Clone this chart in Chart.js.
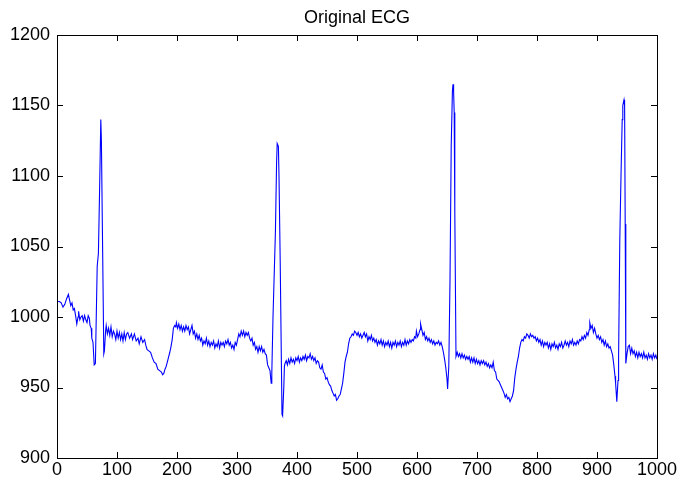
<!DOCTYPE html>
<html>
<head>
<meta charset="utf-8">
<script src="https://cdn.jsdelivr.net/npm/chart.js@4.4.1/dist/chart.umd.min.js"></script>
<style>
  html, body { margin: 0; padding: 0; background: #fff; }
  canvas { display: block; }
</style>
</head>
<body>
<canvas id="ecgCanvas" width="696" height="483"></canvas>
<script>
// sample index / amplitude pairs, one array per beat
const beat1 = [
  [0,1011],[4,1011],[7,1010],[10,1007],[13,1009],[16,1013],[19,1016],[21,1012],[23,1008],[25,1010],
  [27,1005],[29,1006],[31,1001],[33,995],[35,1000],[36,1004],[38,998],[40,1000],[42,1001],[44,997],
  [46,1001],[48,998],[50,996],[52,1001],[54,999],[55,994],[57,992],[58,985],[60,982],[62,966],[64,967],
  [65,990],[67,1036],[69,1045],[71,1090],[73,1140],[74,1125],[76,1050],[78,974],[79,976],[81,990],
  [82,994],[84,988],[86,992],[88,987],[90,993],[92,986],[94,990],[96,988],[98,984],[100,990],
  [102,985],[104,989],[106,984],[108,988],[110,983],[112,989],[114,984],[116,988],[118,989],[121,985],
  [124,988],[126,984],[129,988],[132,983],[135,985],[137,981],[140,986],[143,982],[146,984],[148,980],
  [150,977],[153,976],[156,975],[159,971],[162,968],[165,967],[168,963],[171,962],[174,961],[176,959],
  [178,960],[180,963],[182,965],[185,970],[188,975],[190,979],[192,984],[194,992],[196,994],[198,993],
  [199,996],[201,992],[203,995],[205,991],[207,994],[209,990],[211,993],[213,990],[215,994],[217,991],
  [219,993],[221,988],[223,991],[225,994],[227,988],[229,990],[231,985],[233,988],[235,984],[237,987],
  [239,983],[241,985],[243,980],[245,983],[247,981],[249,985],[251,980],[253,983],[255,979],[257,982],
  [259,980],[261,983],[263,978],[265,981],[267,979],[269,983],[271,978],[273,982],[275,980],[277,982],
  [279,979],[281,983],[283,981],[285,984],[287,980],[289,982],[291,978],[293,980],[295,977],[297,982],
  [299,980],[301,984],[303,988],[305,986],[307,990],[309,987],[311,990],[313,986],[315,989],[317,987],
  [319,989],[321,985],[323,983],[325,985],[327,980],[329,982],[331,977],[333,979],[335,975],[337,979],
  [339,976],[341,979],[343,975],[345,977],[347,974],[349,973],[351,966],[353,964],[355,962],[357,953]
];
const beat2 = [
  [358,960],[360,1000],[362,1030],[364,1060],[366,1110],[367,1123],[369,1121],[370,1100],[372,1040],
  [374,967],[375,931],[376,930],[378,950],[379,965],[380,967],[382,969],[384,966],[386,970],[388,967],
  [390,971],[392,968],[394,970],[396,967],[398,971],[400,969],[402,972],[404,968],[406,971],[408,969],
  [410,972],[412,970],[414,973],[416,969],[418,972],[420,971],[422,974],[424,970],[426,972],[428,969],
  [430,971],[432,967],[434,969],[436,968],[438,964],[440,963],[442,966],[444,961],[446,960],[448,956],
  [450,957],[452,954],[454,952],[456,951],[458,948],[460,946],[462,944],[464,945],[466,941],[468,942],
  [470,944],[472,945],[474,949],[476,953],[478,960],[480,968],[482,972],[484,975],[486,981],[488,985],
  [490,986],[492,988],[494,987],[496,990],[498,989],[500,987],[502,989],[504,986],[506,988],[508,985],
  [510,987],[512,989],[514,986],[516,988],[518,983],[520,986],[522,984],[524,987],[526,983],[528,985],
  [530,982],[532,984],[534,980],[536,983],[538,981],[540,984],[542,980],[544,983],[546,979],[548,982],
  [550,980],[552,983],[554,979],[556,982],[558,978],[560,982],[562,980],[564,983],[566,979],[568,982],
  [570,980],[572,983],[574,979],[576,982],[578,980],[580,984],[582,980],[584,983],[586,981],[588,984],
  [590,982],[592,984],[594,983],[596,986],[598,985],[599,990],[601,986],[603,988],[605,991],[606,995],
  [608,991],[610,987],[612,989],[614,984],[616,986],[618,983],[620,985],[622,982],[624,984],[626,981],
  [628,983],[630,980],[632,982],[634,981],[636,983],[638,980],[640,982],[642,979],[644,975],[646,970],
  [648,964],[650,956],[651,949]
];
const beat3 = [
  [653,965],[655,1026],[657,1121],[659,1160],[660,1165],[661,1160],[662,1145],[663,1075],[665,972],
  [667,975],[669,972],[671,974],[673,971],[675,974],[677,971],[679,973],[681,970],[683,972],[685,970],
  [687,972],[689,968],[691,971],[693,968],[695,971],[697,967],[699,970],[701,967],[703,969],[705,966],
  [707,969],[709,967],[711,969],[713,966],[715,968],[717,965],[719,967],[721,964],[723,966],[725,964],
  [727,968],[729,962],[731,961],[733,956],[735,955],[737,954],[739,952],[741,950],[743,948],[745,946],
  [747,943],[749,945],[751,942],[753,943],[755,940],[757,942],[759,944],[761,948],[763,957],[765,963],
  [767,968],[769,972],[771,978],[773,982],[775,984],[777,983],[779,986],[781,985],[783,988],[785,987],
  [787,985],[789,988],[791,986],[793,987],[795,985],[797,986],[799,983],[801,985],[803,982],[805,984],
  [807,980],[809,983],[811,979],[813,982],[815,980],[817,982],[819,978],[821,981],[823,977],[825,981],
  [827,979],[829,982],[831,978],[833,980],[835,977],[837,981],[839,979],[841,982],[843,978],[845,980],
  [847,983],[849,980],[851,982],[853,979],[855,983],[857,981],[859,984],[861,980],[863,982],[865,980],
  [867,983],[869,981],[871,984],[873,983],[875,986],[877,984],[879,987],[881,985],[883,989],[885,987],
  [887,991],[888,996],[890,992],[892,994],[894,989],[896,992],[898,988],[900,985],[902,987],[904,984],
  [906,986],[908,982],[910,984],[912,980],[914,983],[916,979],[918,981],[920,978],[922,979],[924,976],
  [926,973],[928,966],[930,958],[931,953],[933,940]
];
const beat4 = [
  [935,955],[936,972],[938,1055],[940,1100],[942,1140],[943,1150],[945,1154],[946,1150],[947,1066],
  [948,967],[950,974],[952,979],[954,980],[956,974],[958,978],[960,974],[962,976],[964,972],[966,975],
  [968,971],[970,975],[972,972],[974,974],[976,971],[978,975],[980,971],[982,973],[984,970],[986,974],
  [988,971],[990,973],[992,970],[994,974],[996,971],[998,973],[1000,970]
];

const xTicks = [0, 100, 200, 300, 400, 500, 600, 700, 800, 900, 1000];
const yTicks = [900, 950, 1000, 1050, 1100, 1150, 1200];

const ecgPoints = beat1.concat(beat2, beat3, beat4).map(p => ({ x: p[0], y: p[1] }));

const fontFamily = "'Liberation Sans', Arial, Helvetica, sans-serif";

// matlab style box with inward tick marks on all four sides
const boxTicks = {
  id: "boxTicks",
  afterDraw(chart) {
    const { ctx, chartArea: a, scales } = chart;
    const len = 6;
    ctx.save();
    ctx.strokeStyle = "#000";
    ctx.lineWidth = 1;
    ctx.beginPath();
    xTicks.forEach(v => {
      const px = Math.round(scales.x.getPixelForValue(v)) + 0.5;
      ctx.moveTo(px, a.bottom);
      ctx.lineTo(px, a.bottom - len);
      ctx.moveTo(px, a.top);
      ctx.lineTo(px, a.top + len);
    });
    yTicks.forEach(v => {
      const py = Math.round(scales.y.getPixelForValue(v)) + 0.5;
      ctx.moveTo(a.left, py);
      ctx.lineTo(a.left + len, py);
      ctx.moveTo(a.right, py);
      ctx.lineTo(a.right - len, py);
    });
    ctx.stroke();
    ctx.strokeRect(Math.round(a.left) + 0.5, Math.round(a.top) + 0.5,
      Math.round(a.right - a.left), Math.round(a.bottom - a.top));
    ctx.restore();
  }
};

new Chart(document.getElementById("ecgCanvas").getContext("2d"), {
  type: "line",
  data: {
    datasets: [{
      data: ecgPoints,
      borderColor: "#0000ff",
      borderWidth: 1.1,
      pointRadius: 0,
      tension: 0,
      fill: false
    }]
  },
  options: {
    responsive: false,
    animation: false,
    devicePixelRatio: 1,
    layout: { padding: { top: 0, right: 39, bottom: 0, left: 0 } },
    plugins: {
      legend: { display: false },
      tooltip: { enabled: false },
      title: {
        display: true,
        fullSize: false,
        text: "Original ECG",
        color: "#000",
        font: { family: fontFamily, size: 18, weight: "normal" },
        padding: { top: 7, bottom: 6.4 }
      }
    },
    scales: {
      x: {
        type: "linear",
        min: 0,
        max: 1000,
        afterBuildTicks: s => { s.ticks = xTicks.map(v => ({ value: v })); },
        afterFit: s => { s.height = 25; },
        grid: { display: false, drawTicks: false },
        border: { display: false },
        ticks: { color: "#000", padding: 1, maxRotation: 0, autoSkip: false,
                 callback: v => String(v),
                 font: { family: fontFamily, size: 18 } }
      },
      y: {
        type: "linear",
        min: 900,
        max: 1200,
        afterBuildTicks: s => { s.ticks = yTicks.map(v => ({ value: v })); },
        afterFit: s => { s.width = 57; },
        grid: { display: false, drawTicks: false },
        border: { display: false },
        ticks: { color: "#000", padding: 7, callback: v => String(v),
                 font: { family: fontFamily, size: 18 } }
      }
    }
  },
  plugins: [boxTicks]
});
</script>
</body>
</html>
